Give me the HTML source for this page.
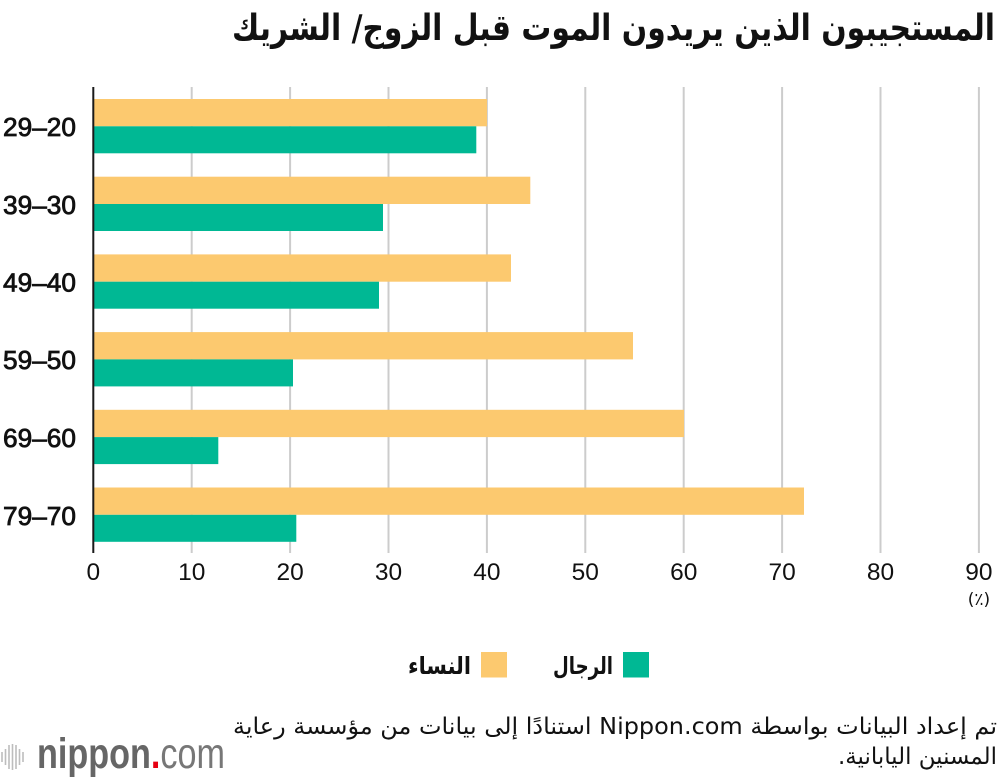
<!DOCTYPE html>
<html>
<head>
<meta charset="utf-8">
<style>
  html, body { margin: 0; padding: 0; background: #fff; }
  body { width: 1000px; height: 778px; overflow: hidden; }
  svg { display: block; }
  .ar { font-family: "DejaVu Sans", "Liberation Sans", sans-serif; }
  .lat { font-family: "Liberation Sans", sans-serif; }
</style>
</head>
<body>
<svg width="1000" height="778" viewBox="0 0 1000 778" xmlns="http://www.w3.org/2000/svg">
  <!-- Title -->
  <text class="ar" x="995" y="40" font-size="36" font-weight="bold" fill="#111" direction="rtl" unicode-bidi="embed" text-anchor="start" textLength="763" lengthAdjust="spacingAndGlyphs">المستجيبون الذين يريدون الموت قبل الزوج/ الشريك</text>

  <!-- Gridlines -->
  <g stroke="#cccccc" stroke-width="2">
    <line x1="191.7" y1="87" x2="191.7" y2="553"/>
    <line x1="290.1" y1="87" x2="290.1" y2="553"/>
    <line x1="388.5" y1="87" x2="388.5" y2="553"/>
    <line x1="486.9" y1="87" x2="486.9" y2="553"/>
    <line x1="585.3" y1="87" x2="585.3" y2="553"/>
    <line x1="683.7" y1="87" x2="683.7" y2="553"/>
    <line x1="782.1" y1="87" x2="782.1" y2="553"/>
    <line x1="880.5" y1="87" x2="880.5" y2="553"/>
    <line x1="978.9" y1="87" x2="978.9" y2="553"/>
  </g>

  <!-- Bars -->
  <g>
    <rect x="94" y="99" width="393" height="27.3" fill="#FCC96F"/>
    <rect x="94" y="126.3" width="382.3" height="27" fill="#00B894"/>

    <rect x="94" y="176.7" width="436.3" height="27.3" fill="#FCC96F"/>
    <rect x="94" y="204" width="289" height="27" fill="#00B894"/>

    <rect x="94" y="254.4" width="417" height="27.3" fill="#FCC96F"/>
    <rect x="94" y="281.7" width="285" height="27" fill="#00B894"/>

    <rect x="94" y="332.1" width="539" height="27.3" fill="#FCC96F"/>
    <rect x="94" y="359.4" width="199" height="27" fill="#00B894"/>

    <rect x="94" y="409.8" width="590" height="27.3" fill="#FCC96F"/>
    <rect x="94" y="437.1" width="124.3" height="27" fill="#00B894"/>

    <rect x="94" y="487.5" width="710" height="27.3" fill="#FCC96F"/>
    <rect x="94" y="514.8" width="202.3" height="27" fill="#00B894"/>
  </g>

  <!-- Axis line -->
  <line x1="93.3" y1="87" x2="93.3" y2="553" stroke="#1a1a1a" stroke-width="2"/>

  <!-- Y labels -->
  <g class="lat" font-size="26" fill="#111" stroke="#111" stroke-width="0.8">
    <text x="3" y="136" textLength="73" lengthAdjust="spacingAndGlyphs">29–20</text>
    <text x="3" y="214" textLength="73" lengthAdjust="spacingAndGlyphs">39–30</text>
    <text x="3" y="291.5" textLength="73" lengthAdjust="spacingAndGlyphs">49–40</text>
    <text x="3" y="369" textLength="73" lengthAdjust="spacingAndGlyphs">59–50</text>
    <text x="3" y="447" textLength="73" lengthAdjust="spacingAndGlyphs">69–60</text>
    <text x="3" y="525" textLength="73" lengthAdjust="spacingAndGlyphs">79–70</text>
  </g>

  <!-- X tick labels -->
  <g class="lat" font-size="24.5" fill="#111" text-anchor="middle">
    <text x="93.3" y="580">0</text>
    <text x="191.7" y="580">10</text>
    <text x="290.1" y="580">20</text>
    <text x="388.5" y="580">30</text>
    <text x="486.9" y="580">40</text>
    <text x="585.3" y="580">50</text>
    <text x="683.7" y="580">60</text>
    <text x="782.1" y="580">70</text>
    <text x="880.5" y="580">80</text>
    <text x="978.9" y="580">90</text>
  </g>
  <text class="ar" x="979" y="605" font-size="17" fill="#111" text-anchor="middle">(٪)</text>

  <!-- Legend -->
  <rect x="623" y="652" width="26" height="25.5" fill="#00B894"/>
  <text class="ar" x="613" y="674" font-size="24" font-weight="bold" fill="#111" direction="rtl" unicode-bidi="embed" text-anchor="start" textLength="60" lengthAdjust="spacingAndGlyphs">الرجال</text>
  <rect x="481" y="652" width="26" height="25.5" fill="#FCC96F"/>
  <text class="ar" x="471" y="674" font-size="24" font-weight="bold" fill="#111" direction="rtl" unicode-bidi="embed" text-anchor="start" textLength="63" lengthAdjust="spacingAndGlyphs">النساء</text>

  <!-- Footer source -->
  <text class="ar" x="997" y="734" font-size="23" fill="#111" direction="rtl" unicode-bidi="embed" text-anchor="start" textLength="764" lengthAdjust="spacingAndGlyphs">تم إعداد البيانات بواسطة Nippon.com استنادًا إلى بيانات من مؤسسة رعاية</text>
  <text class="ar" x="997" y="764" font-size="23" fill="#111" direction="rtl" unicode-bidi="embed" text-anchor="start" textLength="159" lengthAdjust="spacingAndGlyphs">المسنين اليابانية.</text>

  <!-- Logo -->
  <g stroke="#bdbdbd" stroke-width="1.6">
    <line x1="2" y1="752" x2="2" y2="762"/>
    <line x1="5.5" y1="749" x2="5.5" y2="765"/>
    <line x1="9" y1="745" x2="9" y2="769"/>
    <line x1="12.5" y1="744" x2="12.5" y2="770"/>
    <line x1="16" y1="745" x2="16" y2="769"/>
    <line x1="19.5" y1="749" x2="19.5" y2="765"/>
    <line x1="23" y1="752" x2="23" y2="762"/>
  </g>
  <text class="lat" x="37" y="768" font-size="43" textLength="188" lengthAdjust="spacingAndGlyphs"><tspan font-weight="bold" fill="#666">nippon</tspan><tspan fill="#e60012" font-weight="bold">.</tspan><tspan fill="#777">com</tspan></text>
</svg>
</body>
</html>
